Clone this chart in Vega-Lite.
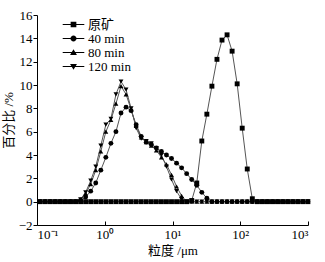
{
  "$schema": "https://vega.github.io/schema/vega-lite/v6.json",
  "width": 271,
  "height": 210,
  "autosize": {"type": "none"},
  "padding": {"left": 37, "top": 15, "right": 17, "bottom": 37},
  "background": "white",
  "config": {
    "view": {"stroke": null},
    "font": "Liberation Serif, Noto Sans CJK SC",
    "axis": {"grid": false, "domainColor": "#000", "tickColor": "#000", "labelColor": "#000", "titleColor": "#000", "labelFont": "Liberation Serif, Noto Sans CJK SC", "titleFont": "Liberation Serif, Noto Sans CJK SC", "labelFontSize": 13, "titleFontSize": 13, "titleFontWeight": "normal", "domainWidth": 1, "tickWidth": 1}
  },
  "data": {"values": [
    {"s":"原矿","x":0.1115,"y":0},{"s":"原矿","x":0.1323,"y":0},{"s":"原矿","x":0.1572,"y":0},{"s":"原矿","x":0.1866,"y":0},{"s":"原矿","x":0.2215,"y":0},{"s":"原矿","x":0.263,"y":0},{"s":"原矿","x":0.3122,"y":0},{"s":"原矿","x":0.3707,"y":0},{"s":"原矿","x":0.44,"y":0},{"s":"原矿","x":0.5224,"y":0},{"s":"原矿","x":0.6203,"y":0},{"s":"原矿","x":0.7365,"y":0},{"s":"原矿","x":0.8745,"y":0},{"s":"原矿","x":1.038,"y":0},{"s":"原矿","x":1.233,"y":0},{"s":"原矿","x":1.463,"y":0},{"s":"原矿","x":1.738,"y":0},{"s":"原矿","x":2.063,"y":0},{"s":"原矿","x":2.449,"y":0},{"s":"原矿","x":2.908,"y":0},{"s":"原矿","x":3.452,"y":0},{"s":"原矿","x":4.099,"y":0},{"s":"原矿","x":4.866,"y":0},{"s":"原矿","x":5.777,"y":0},{"s":"原矿","x":6.86,"y":0},{"s":"原矿","x":8.144,"y":0},{"s":"原矿","x":9.667,"y":0},{"s":"原矿","x":11.48,"y":0},{"s":"原矿","x":13.63,"y":0},{"s":"原矿","x":16.18,"y":0},{"s":"原矿","x":19.21,"y":0.1},{"s":"原矿","x":22.81,"y":1.6},{"s":"原矿","x":27.07,"y":5.2},{"s":"原矿","x":32.15,"y":7.5},{"s":"原矿","x":38.17,"y":9.9},{"s":"原矿","x":45.32,"y":12.2},{"s":"原矿","x":53.8,"y":13.85},{"s":"原矿","x":63.88,"y":14.3},{"s":"原矿","x":75.84,"y":12.9},{"s":"原矿","x":90.03,"y":10.1},{"s":"原矿","x":106.9,"y":6.3},{"s":"原矿","x":126.9,"y":2.8},{"s":"原矿","x":150.7,"y":0.25},{"s":"原矿","x":178.9,"y":0},{"s":"原矿","x":212.4,"y":0},{"s":"原矿","x":252.2,"y":0},{"s":"原矿","x":299.4,"y":0},{"s":"原矿","x":355.5,"y":0},{"s":"原矿","x":422.1,"y":0},{"s":"原矿","x":501.1,"y":0},{"s":"原矿","x":594.9,"y":0},{"s":"原矿","x":706.3,"y":0},{"s":"原矿","x":838.6,"y":0},{"s":"原矿","x":995.5,"y":0},
    {"s":"40 min","x":0.1115,"y":0},{"s":"40 min","x":0.1323,"y":0},{"s":"40 min","x":0.1572,"y":0},{"s":"40 min","x":0.1866,"y":0},{"s":"40 min","x":0.2215,"y":0},{"s":"40 min","x":0.263,"y":0},{"s":"40 min","x":0.3122,"y":0},{"s":"40 min","x":0.3707,"y":0},{"s":"40 min","x":0.44,"y":0.1},{"s":"40 min","x":0.5224,"y":0.4},{"s":"40 min","x":0.6203,"y":0.9},{"s":"40 min","x":0.7365,"y":1.6},{"s":"40 min","x":0.8745,"y":2.7},{"s":"40 min","x":1.038,"y":3.8},{"s":"40 min","x":1.233,"y":5.0},{"s":"40 min","x":1.463,"y":6.0},{"s":"40 min","x":1.738,"y":7.6},{"s":"40 min","x":2.063,"y":8.1},{"s":"40 min","x":2.449,"y":7.8},{"s":"40 min","x":2.908,"y":6.6},{"s":"40 min","x":3.452,"y":5.6},{"s":"40 min","x":4.099,"y":5.1},{"s":"40 min","x":4.866,"y":4.9},{"s":"40 min","x":5.777,"y":4.6},{"s":"40 min","x":6.86,"y":4.3},{"s":"40 min","x":8.144,"y":4.0},{"s":"40 min","x":9.667,"y":3.7},{"s":"40 min","x":11.48,"y":3.3},{"s":"40 min","x":13.63,"y":2.9},{"s":"40 min","x":16.18,"y":2.4},{"s":"40 min","x":19.21,"y":1.9},{"s":"40 min","x":22.81,"y":1.4},{"s":"40 min","x":27.07,"y":0.8},{"s":"40 min","x":32.15,"y":0.3},{"s":"40 min","x":38.17,"y":0},{"s":"40 min","x":45.32,"y":0},{"s":"40 min","x":53.8,"y":0},{"s":"40 min","x":63.88,"y":0},{"s":"40 min","x":75.84,"y":0},{"s":"40 min","x":90.03,"y":0},{"s":"40 min","x":106.9,"y":0},{"s":"40 min","x":126.9,"y":0},{"s":"40 min","x":150.7,"y":0},{"s":"40 min","x":178.9,"y":0},{"s":"40 min","x":212.4,"y":0},{"s":"40 min","x":252.2,"y":0},{"s":"40 min","x":299.4,"y":0},{"s":"40 min","x":355.5,"y":0},{"s":"40 min","x":422.1,"y":0},{"s":"40 min","x":501.1,"y":0},{"s":"40 min","x":594.9,"y":0},{"s":"40 min","x":706.3,"y":0},{"s":"40 min","x":838.6,"y":0},{"s":"40 min","x":995.5,"y":0},
    {"s":"80 min","x":0.1115,"y":0},{"s":"80 min","x":0.1323,"y":0},{"s":"80 min","x":0.1572,"y":0},{"s":"80 min","x":0.1866,"y":0},{"s":"80 min","x":0.2215,"y":0},{"s":"80 min","x":0.263,"y":0},{"s":"80 min","x":0.3122,"y":0},{"s":"80 min","x":0.3707,"y":0},{"s":"80 min","x":0.44,"y":0.2},{"s":"80 min","x":0.5224,"y":0.7},{"s":"80 min","x":0.6203,"y":1.5},{"s":"80 min","x":0.7365,"y":2.7},{"s":"80 min","x":0.8745,"y":4.3},{"s":"80 min","x":1.038,"y":6.0},{"s":"80 min","x":1.233,"y":7.0},{"s":"80 min","x":1.463,"y":8.4},{"s":"80 min","x":1.738,"y":9.9},{"s":"80 min","x":2.063,"y":9.2},{"s":"80 min","x":2.449,"y":7.9},{"s":"80 min","x":2.908,"y":6.5},{"s":"80 min","x":3.452,"y":5.5},{"s":"80 min","x":4.099,"y":5.1},{"s":"80 min","x":4.866,"y":4.8},{"s":"80 min","x":5.777,"y":4.4},{"s":"80 min","x":6.86,"y":3.8},{"s":"80 min","x":8.144,"y":3.2},{"s":"80 min","x":9.667,"y":2.3},{"s":"80 min","x":11.48,"y":1.3},{"s":"80 min","x":13.63,"y":0.5},{"s":"80 min","x":16.18,"y":0},{"s":"80 min","x":19.21,"y":0},{"s":"80 min","x":22.81,"y":0},{"s":"80 min","x":27.07,"y":0},{"s":"80 min","x":32.15,"y":0},{"s":"80 min","x":38.17,"y":0},{"s":"80 min","x":45.32,"y":0},{"s":"80 min","x":53.8,"y":0},{"s":"80 min","x":63.88,"y":0},{"s":"80 min","x":75.84,"y":0},{"s":"80 min","x":90.03,"y":0},{"s":"80 min","x":106.9,"y":0},{"s":"80 min","x":126.9,"y":0},{"s":"80 min","x":150.7,"y":0},{"s":"80 min","x":178.9,"y":0},{"s":"80 min","x":212.4,"y":0},{"s":"80 min","x":252.2,"y":0},{"s":"80 min","x":299.4,"y":0},{"s":"80 min","x":355.5,"y":0},{"s":"80 min","x":422.1,"y":0},{"s":"80 min","x":501.1,"y":0},{"s":"80 min","x":594.9,"y":0},{"s":"80 min","x":706.3,"y":0},{"s":"80 min","x":838.6,"y":0},{"s":"80 min","x":995.5,"y":0},
    {"s":"120 min","x":0.1115,"y":0},{"s":"120 min","x":0.1323,"y":0},{"s":"120 min","x":0.1572,"y":0},{"s":"120 min","x":0.1866,"y":0},{"s":"120 min","x":0.2215,"y":0},{"s":"120 min","x":0.263,"y":0},{"s":"120 min","x":0.3122,"y":0},{"s":"120 min","x":0.3707,"y":0},{"s":"120 min","x":0.44,"y":0.2},{"s":"120 min","x":0.5224,"y":0.8},{"s":"120 min","x":0.6203,"y":1.8},{"s":"120 min","x":0.7365,"y":3.0},{"s":"120 min","x":0.8745,"y":4.8},{"s":"120 min","x":1.038,"y":6.6},{"s":"120 min","x":1.233,"y":7.1},{"s":"120 min","x":1.463,"y":9.2},{"s":"120 min","x":1.738,"y":10.3},{"s":"120 min","x":2.063,"y":9.6},{"s":"120 min","x":2.449,"y":8.0},{"s":"120 min","x":2.908,"y":6.3},{"s":"120 min","x":3.452,"y":5.4},{"s":"120 min","x":4.099,"y":5.2},{"s":"120 min","x":4.866,"y":5.0},{"s":"120 min","x":5.777,"y":4.6},{"s":"120 min","x":6.86,"y":4.0},{"s":"120 min","x":8.144,"y":3.0},{"s":"120 min","x":9.667,"y":1.9},{"s":"120 min","x":11.48,"y":0.9},{"s":"120 min","x":13.63,"y":0.2},{"s":"120 min","x":16.18,"y":0},{"s":"120 min","x":19.21,"y":0},{"s":"120 min","x":22.81,"y":0},{"s":"120 min","x":27.07,"y":0},{"s":"120 min","x":32.15,"y":0},{"s":"120 min","x":38.17,"y":0},{"s":"120 min","x":45.32,"y":0},{"s":"120 min","x":53.8,"y":0},{"s":"120 min","x":63.88,"y":0},{"s":"120 min","x":75.84,"y":0},{"s":"120 min","x":90.03,"y":0},{"s":"120 min","x":106.9,"y":0},{"s":"120 min","x":126.9,"y":0},{"s":"120 min","x":150.7,"y":0},{"s":"120 min","x":178.9,"y":0},{"s":"120 min","x":212.4,"y":0},{"s":"120 min","x":252.2,"y":0},{"s":"120 min","x":299.4,"y":0},{"s":"120 min","x":355.5,"y":0},{"s":"120 min","x":422.1,"y":0},{"s":"120 min","x":501.1,"y":0},{"s":"120 min","x":594.9,"y":0},{"s":"120 min","x":706.3,"y":0},{"s":"120 min","x":838.6,"y":0},{"s":"120 min","x":995.5,"y":0}
  ]},
  "encoding": {
    "x": {"field": "x", "type": "quantitative", "scale": {"type": "log", "domain": [0.1, 1000], "nice": false},
      "axis": {"title": "粒度 /μm", "values": [0.1, 1, 10, 100, 1000], "tickSize": -4, "labelPadding": 7, "titlePadding": 3, "labelExpr": "'10' + ['⁻¹','⁰','¹','²','³'][round(log(datum.value)/LN10) + 1]"}},
    "y": {"field": "y", "type": "quantitative", "scale": {"domain": [-2, 16], "nice": false},
      "axis": {"title": "百分比 /%", "values": [-2, 0, 2, 4, 6, 8, 10, 12, 14, 16], "tickSize": 4, "labelPadding": 1, "titlePadding": 3}}
  },
  "layer": [
    {"mark": {"type": "line", "stroke": "#555", "strokeWidth": 1}, "encoding": {"detail": {"field": "s"}}},
    {"mark": {"type": "point", "filled": true, "color": "#000", "opacity": 1, "size": 24},
      "encoding": {"shape": {"field": "s", "scale": {"domain": ["原矿", "40 min", "80 min", "120 min"], "range": ["square", "circle", "triangle-up", "triangle-down"]}, "legend": null}}},
    {"mark": {"type": "point", "filled": true, "color": "#000", "opacity": 0, "size": 36},
      "encoding": {"shape": {"field": "s", "scale": {"domain": ["原矿", "40 min", "80 min", "120 min"], "range": ["M-3.6,-0.13H3.6V0.13H-3.6Z M-0.95,-0.95H0.95V0.95H-0.95Z", "M-3.6,-0.13H3.6V0.13H-3.6Z M1,0A1,1,0,1,1,-1,0A1,1,0,1,1,1,0Z", "M-3.6,-0.13H3.6V0.13H-3.6Z M0,-1.1L1.15,0.8H-1.15Z", "M-3.6,-0.13H3.6V0.13H-3.6Z M0,1.1L-1.15,-0.8H1.15Z"]},
        "legend": {"title": null, "orient": "none", "legendX": 30, "legendY": 3, "padding": 0, "symbolSize": 36, "symbolOpacity": 1, "symbolFillColor": "#000", "symbolStrokeWidth": 0, "labelOffset": 8, "labelFontSize": 13, "labelFont": "Liberation Serif, Noto Sans CJK SC", "labelColor": "#000", "rowPadding": -1,
          "encode": {"symbols": {"update": {"opacity": {"value": 1}, "fill": {"value": "#000"}, "fillOpacity": {"value": 1}}}}}}}}
  ],
  "resolve": {"scale": {"shape": "independent"}, "legend": {"shape": "independent"}}
}
